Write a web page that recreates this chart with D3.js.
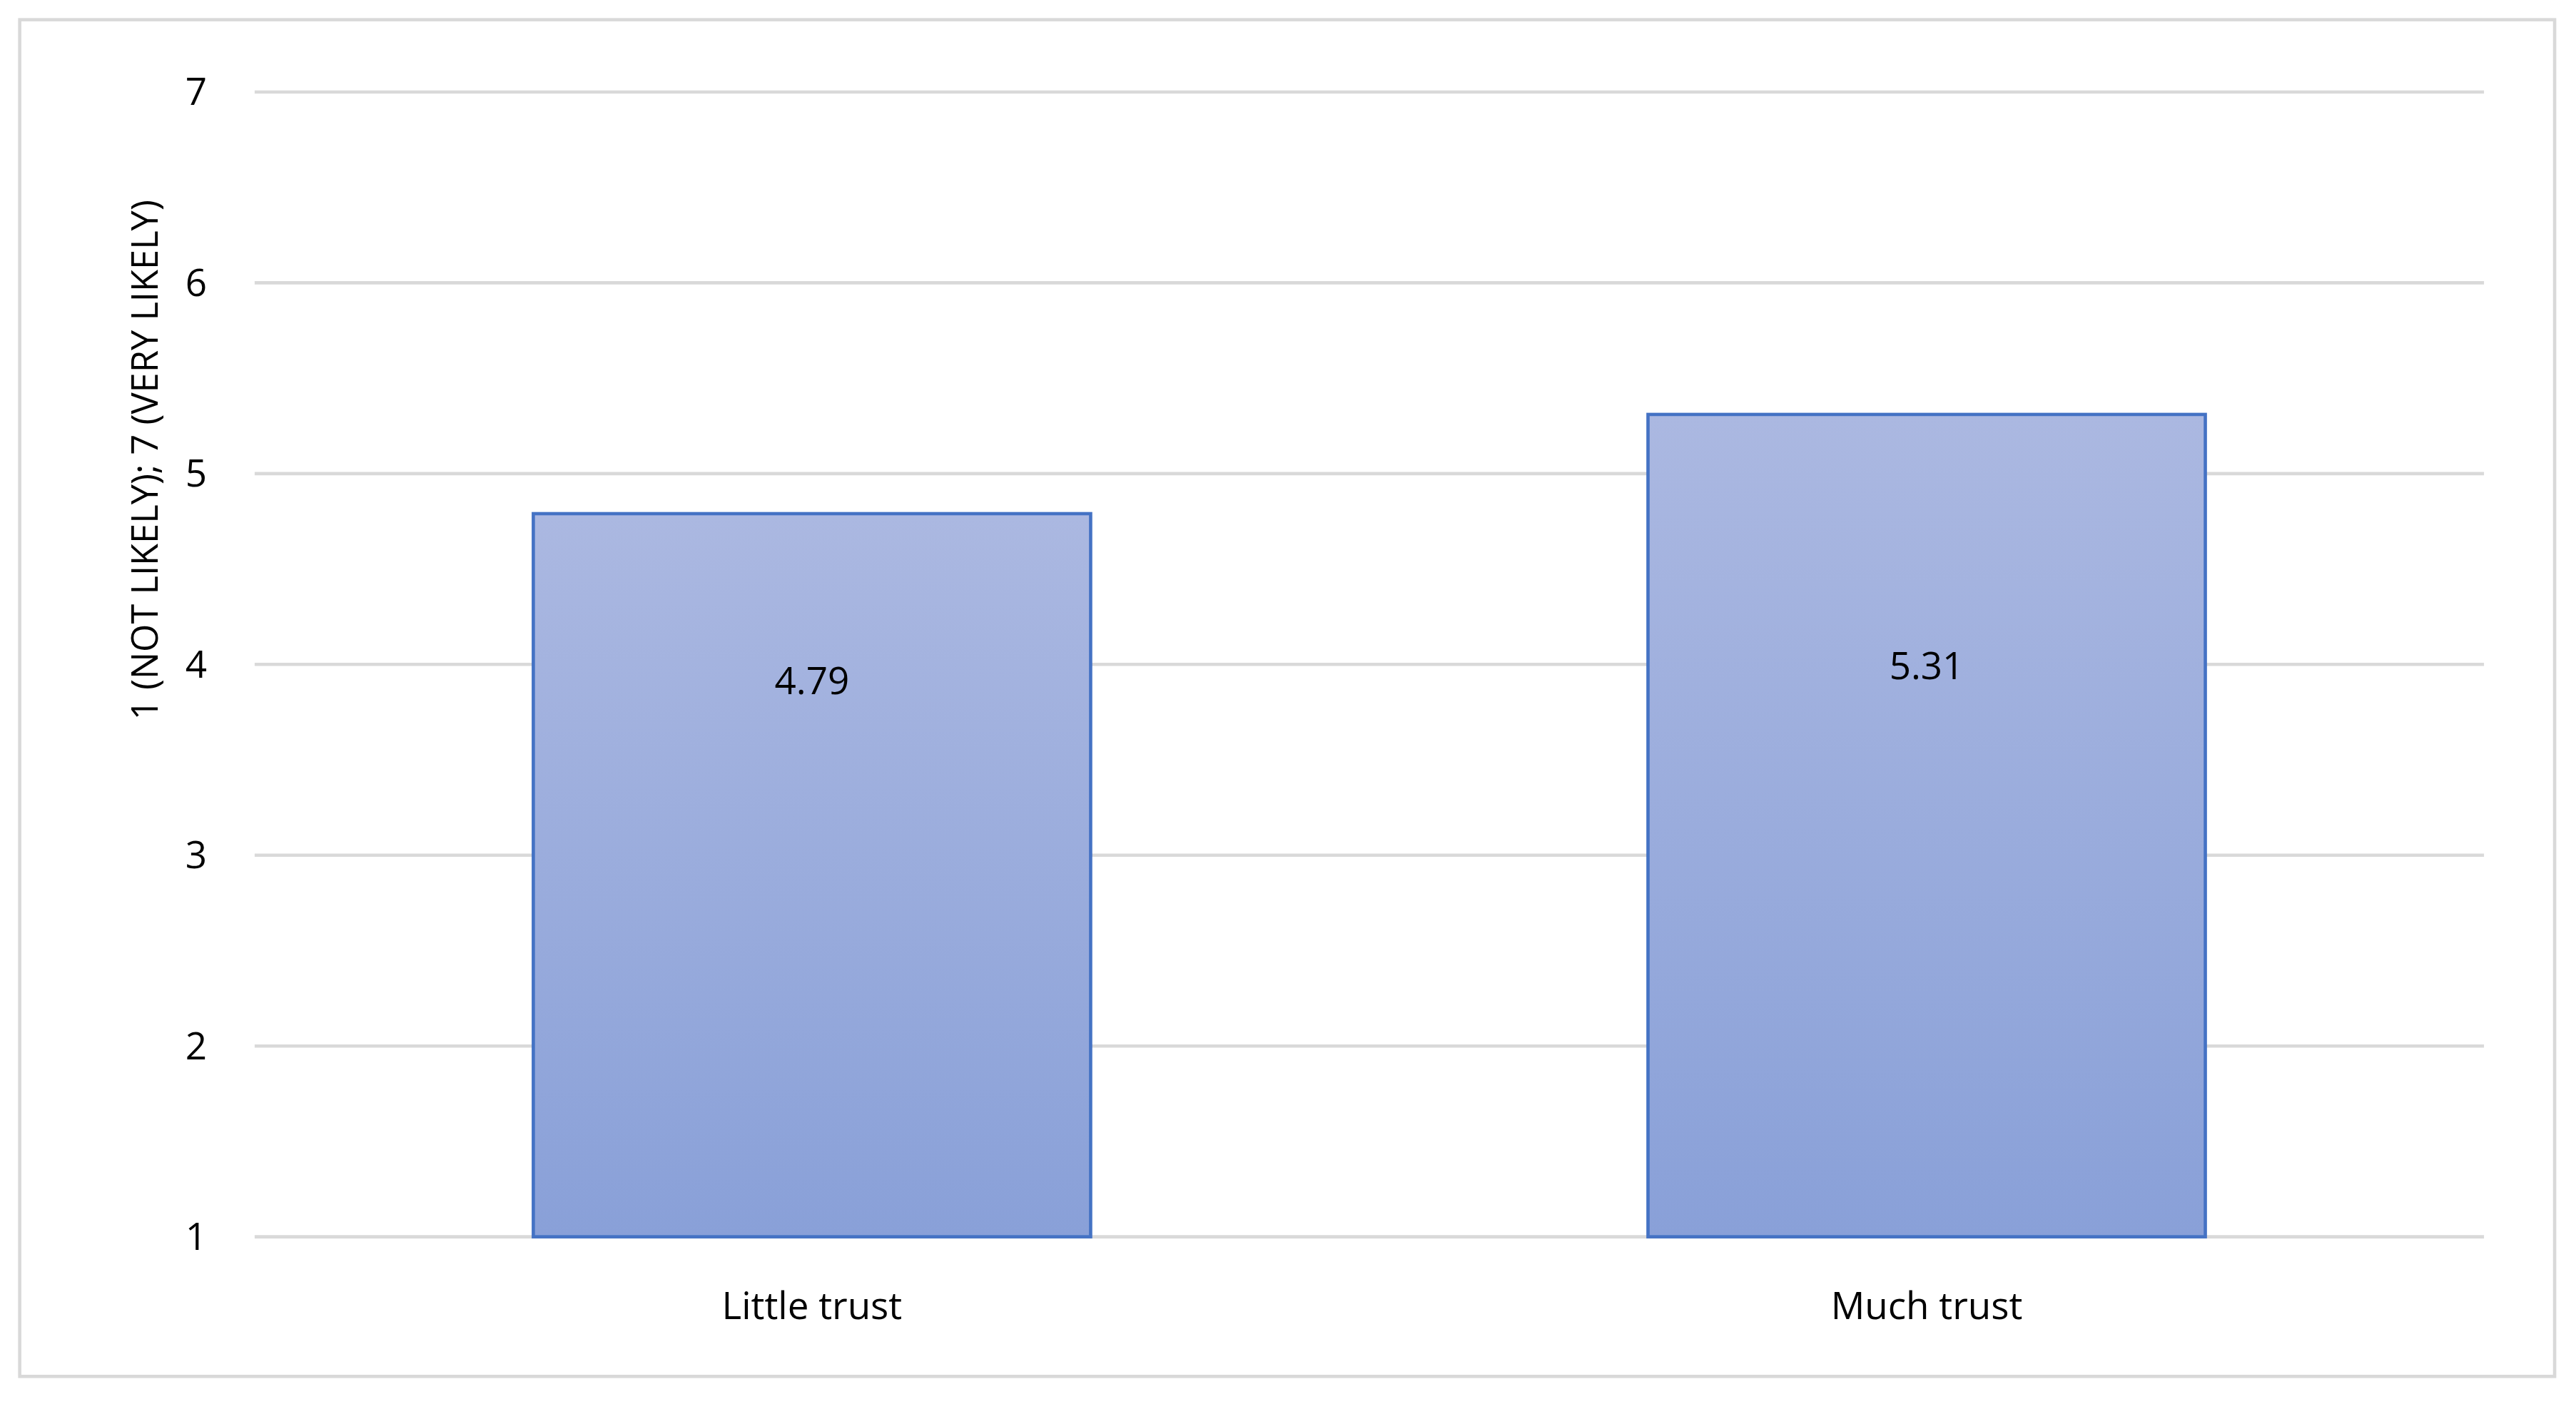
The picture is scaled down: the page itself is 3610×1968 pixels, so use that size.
<!DOCTYPE html>
<html><head><meta charset="utf-8">
<script src="https://cdn.jsdelivr.net/npm/d3@7"></script>
<style>body{margin:0;background:#fff}svg{display:block}</style>
</head><body>
<script>
const categories = ["Little trust", "Much trust"];
const values = [4.79, 5.31];
const labels = ["4.79", "5.31"];
const yTicks = [1, 2, 3, 4, 5, 6, 7];

const s = 3610 / 1568;
const W = 3610, H = 1968;
const svg = d3.select("body").append("svg").attr("width", W).attr("height", H);
const font = "'Open Sans', sans-serif";
const fs = 23 * s;
const labelOffsets = [102, 153];

svg.append("rect").attr("x", 12*s).attr("y", 12*s).attr("width", 1543*s).attr("height", 826*s)
  .attr("fill", "#fff").attr("stroke", "#d9d9d9").attr("stroke-width", 2*s);

const defs = svg.append("defs");
const g = defs.append("linearGradient").attr("id", "bg").attr("x1", 0).attr("y1", 0).attr("x2", 0).attr("y2", 1);
g.append("stop").attr("offset", "0%").attr("stop-color", "#abb8e1");
g.append("stop").attr("offset", "100%").attr("stop-color", "#89a0d8");

const x = d3.scaleBand().domain(categories).range([155*s, 1512*s]).paddingInner(0.5).paddingOuter(0.25);
const y = d3.scaleLinear().domain([1, 7]).range([753*s, 56*s]);

svg.append("g").selectAll("line").data(yTicks).join("line")
  .attr("x1", 155*s).attr("x2", 1512*s).attr("y1", d => y(d)).attr("y2", d => y(d))
  .attr("stroke", "#d9d9d9").attr("stroke-width", 2*s);

svg.append("g").selectAll("text").data(yTicks).join("text")
  .attr("x", 126*s).attr("y", d => y(d)).attr("dy", "0.35em").attr("text-anchor", "end")
  .attr("font-family", font).attr("font-size", fs).attr("fill", "#000").text(d => d);

svg.append("g").selectAll("rect").data(values).join("rect")
  .attr("x", (d, i) => x(categories[i])).attr("width", x.bandwidth())
  .attr("y", d => y(d)).attr("height", d => y(1) - y(d))
  .attr("fill", "url(#bg)").attr("stroke", "#4472c4").attr("stroke-width", 2*s);

svg.append("g").selectAll("text").data(values).join("text")
  .attr("x", (d, i) => x(categories[i]) + x.bandwidth()/2)
  .attr("y", (d, i) => y(d) + labelOffsets[i]*s).attr("dy", "0.35em").attr("text-anchor", "middle")
  .attr("font-family", font).attr("font-size", fs).attr("fill", "#000")
  .text((d, i) => labels[i]);

svg.append("g").selectAll("text").data(categories).join("text")
  .attr("x", d => x(d) + x.bandwidth()/2).attr("y", 795*s).attr("dy", "0.35em").attr("text-anchor", "middle")
  .attr("font-family", font).attr("font-size", fs).attr("fill", "#000").text(d => d);

svg.append("text").attr("transform", `translate(${96*s},${280*s}) rotate(-90)`)
  .attr("text-anchor", "middle").attr("font-family", font).attr("font-size", 22*s).attr("fill", "#000")
  .text("1 (NOT LIKELY); 7 (VERY LIKELY)");
</script>
</body></html>
